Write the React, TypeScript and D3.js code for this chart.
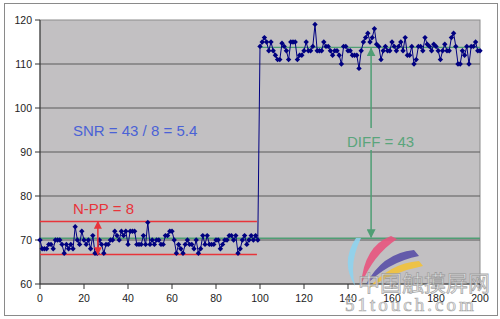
import React from "react";
import * as d3 from "d3";

// Lower level series, x = 0..99
const lowValues = [
  70, 68, 68, 68, 69, 69, 68, 70, 70, 70,
  69, 67, 69, 68, 69, 68, 73, 70, 69, 72,
  70, 69, 70, 68, 71, 67, 67, 70, 69, 67,
  69, 69, 70, 70, 72, 71, 70, 72, 71, 72,
  69, 72, 72, 72, 69, 69, 69, 71, 69, 74,
  69, 70, 69, 70, 70, 69, 69, 71, 71, 72,
  72, 70, 67, 69, 68, 67, 69, 70, 69, 69,
  68, 70, 67, 68, 71, 69, 71, 69, 69, 69,
  70, 70, 68, 69, 70, 70, 71, 71, 70, 71,
  67, 68, 70, 71, 69, 70, 71, 70, 71, 70,
];
// Upper level series, x = 100..200
const highValues = [
  114, 115, 116, 115, 113, 115, 113, 112, 111, 111,
  114.7, 114, 113, 111, 115, 115, 115, 111, 112, 112,
  113, 115, 113, 113, 114, 119, 113, 113, 113, 115,
  114, 114, 113, 112, 113, 113, 112, 110, 114, 114,
  113, 113, 112, 112, 112, 109, 113, 115, 116, 117,
  115, 116, 118, 114.5, 114, 111, 113, 114, 113, 113,
  115, 114, 113, 114, 115, 113, 116, 112, 112, 114,
  110, 111, 114, 114, 113, 116, 114.5, 114, 113, 114.5,
  114, 113, 111, 113, 114.5, 113, 113, 116, 117, 114,
  110, 110, 113, 112, 114, 110, 114, 114, 115, 113,
  113,
];
const xTicks = [0, 20, 40, 60, 80, 100, 120, 140, 160, 180, 200];
const yTicks = [60, 70, 80, 90, 100, 110, 120];
const gridValues = [70, 80, 90, 100, 110];

// Annotation values
const bandTop = 74.2;
const bandBottom = 66.7;
const bandEndX = 98.6;
const ppArrowX = 26.3;
const lowMean = 70.4;
const highMean = 113.8;
const diffArrowX = 150.5;

const allValues = [...lowValues, ...highValues];
const points = allValues.map((v, i) => ({ x: i, y: v }));

export default function App() {
  const x = d3.scaleLinear().domain([0, 200]).range([40, 480]);
  const y = d3.scaleLinear().domain([60, 120]).range([284, 20]);
  const line = d3
    .line<{ x: number; y: number }>()
    .x((d) => x(d.x))
    .y((d) => y(d.y));

  const font = "'Liberation Sans', Arial, sans-serif";
  const red = "#e8343a";
  const green = "#4f9e74";
  const navy = "#000080";

  const diamond = (cx: number, cy: number, r: number) =>
    `M${cx},${cy - r}L${cx + r},${cy}L${cx},${cy + r}L${cx - r},${cy}Z`;

  const diffTextY = 142;

  return (
    <svg
      width={500}
      height={319}
      style={{ position: "absolute", left: 0, top: 0, background: "#fff" }}
    >
      <defs>
        <marker id="redHead" viewBox="0 0 10 10" refX="9" refY="5" markerWidth="8" markerHeight="8" orient="auto-start-reverse" markerUnits="userSpaceOnUse">
          <path d="M0,0L10,5L0,10Z" fill={red} />
        </marker>
        <marker id="greenHead" viewBox="0 0 10 10" refX="9" refY="5" markerWidth="9" markerHeight="9" orient="auto-start-reverse" markerUnits="userSpaceOnUse">
          <path d="M0,0L10,5L0,10Z" fill={green} />
        </marker>
      </defs>
      <rect x={4.5} y={3.5} width={493} height={312} fill="#fff" stroke="#8a8a8a" strokeWidth={1} />
      {/* plot area */}
      <rect x={x(0)} y={y(120)} width={x(200) - x(0)} height={y(60) - y(120)} fill="#c2c0c2" stroke="#8c8c8c" strokeWidth={1} />
      {gridValues.map((g) => (
        <line key={g} x1={x(0)} x2={x(200)} y1={y(g)} y2={y(g)} stroke="#5a5a5a" strokeWidth={1} />
      ))}
      {/* axes */}
      <line x1={x(0)} x2={x(0)} y1={y(120)} y2={y(60)} stroke="#333" strokeWidth={1} />
      <line x1={x(0)} x2={x(200)} y1={y(60)} y2={y(60)} stroke="#333" strokeWidth={1} />
      {yTicks.map((t) => (
        <g key={t}>
          <line x1={x(0) - 5} x2={x(0)} y1={y(t)} y2={y(t)} stroke="#333" />
          <text x={32} y={y(t) + 4} textAnchor="end" fontFamily={font} fontSize={10.5} fill="#222">{t}</text>
        </g>
      ))}
      {xTicks.map((t) => (
        <g key={t}>
          <line x1={x(t)} x2={x(t)} y1={y(60)} y2={y(60) + 5} stroke="#333" />
          <text x={x(t)} y={302} textAnchor="middle" fontFamily={font} fontSize={10.5} fill="#222">{t}</text>
        </g>
      ))}

      {/* green reference lines */}
      <line x1={x(0)} x2={x(200)} y1={y(lowMean)} y2={y(lowMean)} stroke={green} strokeWidth={1.3} />
      <line x1={x(100.5)} x2={x(200)} y1={y(highMean)} y2={y(highMean)} stroke={green} strokeWidth={1.3} />

      {/* red noise band */}
      <line x1={x(0)} x2={x(bandEndX)} y1={y(bandTop)} y2={y(bandTop)} stroke={red} strokeWidth={1.3} />
      <line x1={x(0)} x2={x(bandEndX)} y1={y(bandBottom)} y2={y(bandBottom)} stroke={red} strokeWidth={1.3} />

      {/* data */}
      <path d={line(points) || ""} fill="none" stroke={navy} strokeWidth={1} />
      {points.map((p) => (
        <path key={p.x} d={diamond(x(p.x), y(p.y), 2.7)} fill={navy} />
      ))}

      {/* red double arrow */}
      <line x1={x(ppArrowX)} x2={x(ppArrowX)} y1={y(bandTop)} y2={y(bandBottom)} stroke={red} strokeWidth={1.6} markerStart="url(#redHead)" markerEnd="url(#redHead)" />

      {/* green diff arrow */}
      <line x1={x(diffArrowX)} x2={x(diffArrowX)} y1={y(highMean) + 1} y2={diffTextY - 14} stroke={green} strokeWidth={1.5} markerStart="url(#greenHead)" />
      <line x1={x(diffArrowX)} x2={x(diffArrowX)} y1={diffTextY + 8} y2={y(lowMean) - 1} stroke={green} strokeWidth={1.5} markerEnd="url(#greenHead)" />

      {/* annotations */}
      <text x={73} y={136} fontFamily={font} fontSize={15} fill="#4a62d6">SNR = 43 / 8 = 5.4</text>
      <text x={73} y={214} fontFamily={font} fontSize={15} fill={red}>N-PP = 8</text>
      <text x={347} y={diffTextY + 5} fontFamily={font} fontSize={15} fill="#5aa57c">DIFF = 43</text>

      {/* watermark */}
      <g opacity={0.9}>
        <path d="M356,238 Q340,262 355,286 Q349,262 361,238 Z" fill="#8fd3ef" />
        <path d="M391,236 Q364,246 361,285 Q373,255 397,239 Z" fill="#e8557f" />
        <path d="M414,250 Q382,253 365,286 Q388,262 419,256 Z" fill="#5a4fa8" />
        <path d="M419,261 Q390,263 368,289 Q392,272 423,266 Z" fill="#f2c33a" />
      </g>
      <text x={358} y={291} fontFamily="'Noto Sans CJK SC', sans-serif" fontSize={22} fill="#eeeeee" stroke="#9a9a9a" strokeWidth={0.8} opacity={0.85}>中国触摸屏网</text>
      <text x={345} y={311} fontFamily="'Liberation Serif', serif" fontSize={19} letterSpacing={3} fill="#eeeeee" stroke="#9a9a9a" strokeWidth={0.7} opacity={0.85}>51touch.com</text>
    </svg>
  );
}
